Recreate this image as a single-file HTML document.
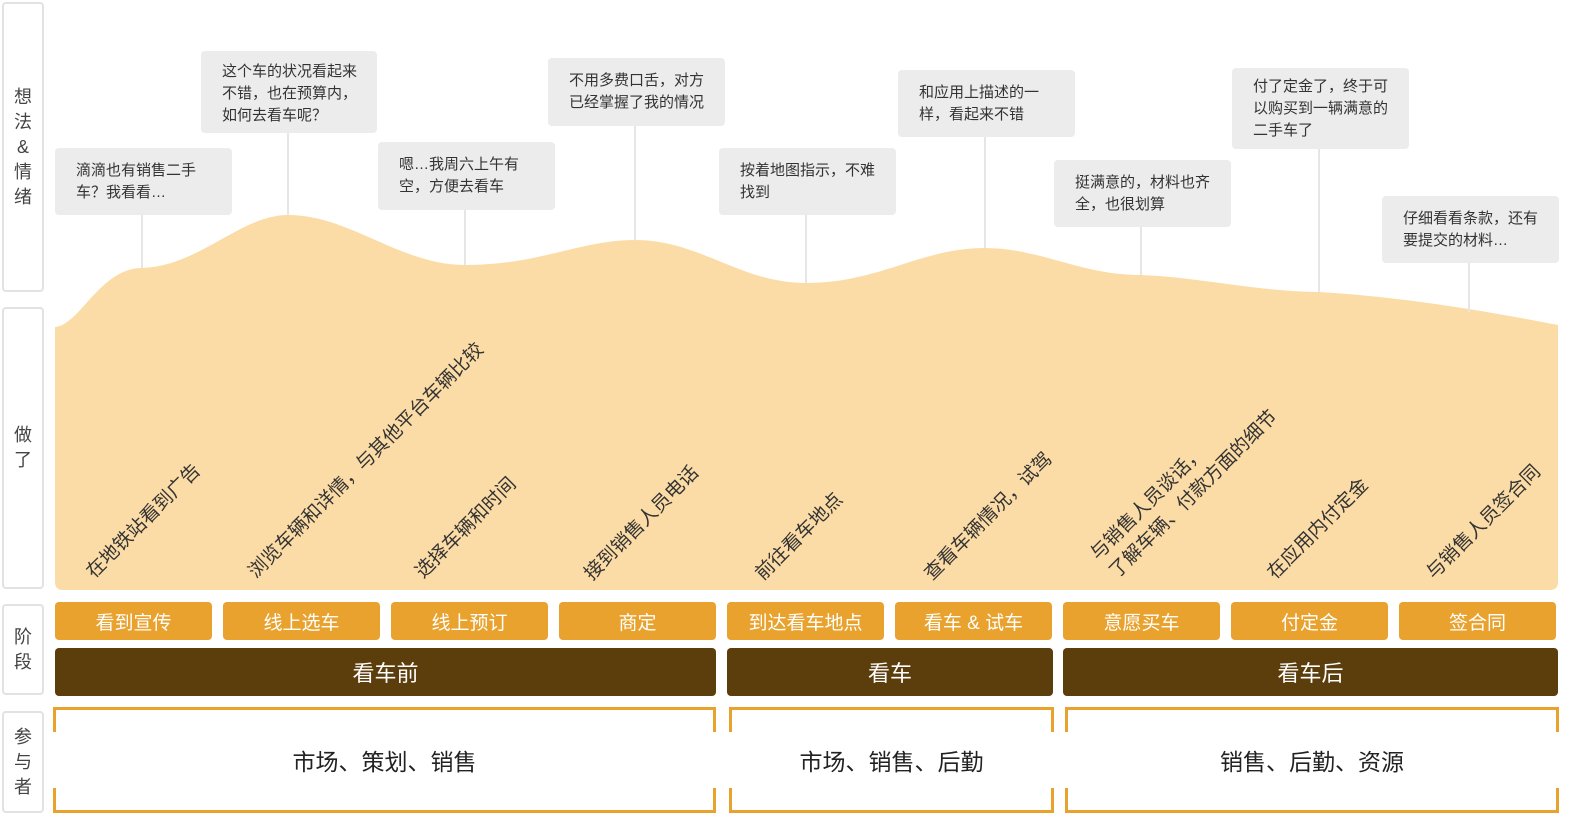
<!DOCTYPE html>
<html><head><meta charset="utf-8"><style>
*{margin:0;padding:0;box-sizing:border-box}
body{width:1585px;height:824px;background:#fff;position:relative;overflow:hidden;font-family:"Liberation Sans","Noto Sans CJK SC",sans-serif}
.lab{position:absolute;left:2px;width:42px;border:2px solid #e2e2e2;border-radius:4px;display:flex;align-items:center;justify-content:center;text-align:center;font-size:18px;line-height:25px;color:#444}
.box{position:absolute;background:#ececec;border-radius:4px;font-size:15px;line-height:22px;color:#333;padding:12px 18px 0 21px}
.ln{position:absolute;width:2px;background:#e6e6e6}
.ph{position:absolute;top:602px;height:38px;width:157px;background:#e8a22d;border-radius:4px;color:#fff;font-size:19px;display:flex;align-items:center;justify-content:center}
.st{position:absolute;top:648px;height:48px;background:#5c3d0c;border-radius:4px;color:#fff;font-size:22px;display:flex;align-items:center;justify-content:center}
.br{position:absolute;top:707px;height:106px;border-top:3px solid #e8a22d;border-bottom:3px solid #e8a22d;font-size:23px;color:#222;display:flex;align-items:center;justify-content:center}
.br:before,.br:after{content:"";position:absolute;top:-3px;width:3px;height:25px;background:#e8a22d;border-radius:0 0 0 0}
.br:before{left:0}.br:after{right:0}
.br i{position:absolute;bottom:-3px;width:3px;height:25px;background:#e8a22d}
</style></head><body>
<div class="lab" style="top:2px;height:290px">想<br>法<br>&amp;<br>情<br>绪</div>
<div class="lab" style="top:307px;height:282px">做<br>了</div>
<div class="lab" style="top:604px;height:91px">阶<br>段</div>
<div class="lab" style="top:711px;height:102px">参<br>与<br>者</div>

<svg style="position:absolute;left:0;top:0" width="1585" height="600">
<path d="M55,327 C80,325 100,268 142,268 C200,266 240,215 288,215 C350,215 400,265 465,265 C540,265 580,240 635,240 C700,240 740,283 806,283 C880,283 920,248 985,248 C1040,248 1080,275 1141,275 C1200,277 1260,292 1319,292 C1400,297 1470,308 1558,325 L1558,582 Q1558,590 1550,590 L63,590 Q55,590 55,582 Z" fill="#fcdca6"/>
<g font-size="19" fill="#333" font-family="Liberation Sans, Noto Sans CJK SC, sans-serif">
<text transform="translate(94,579) rotate(-45)">在地铁站看到广告</text>
<text transform="translate(256,579) rotate(-45)">浏览车辆和详情，与其他平台车辆比较</text>
<text transform="translate(423,579) rotate(-45)">选择车辆和时间</text>
<text transform="translate(592,581) rotate(-45)">接到销售人员电话</text>
<text transform="translate(763,581) rotate(-45)">前往看车地点</text>
<text transform="translate(932,581) rotate(-45)">查看车辆情况，试驾</text>
<text transform="translate(1098,561) rotate(-45)">与销售人员谈话，</text>
<text transform="translate(1117,579) rotate(-45)">了解车辆、付款方面的细节</text>
<text transform="translate(1275,580) rotate(-45)">在应用内付定金</text>
<text transform="translate(1434,580) rotate(-45)">与销售人员签合同</text>
</g></svg>

<div class="ln" style="left:141px;top:215px;height:53px"></div>
<div class="ln" style="left:287px;top:133px;height:82px"></div>
<div class="ln" style="left:464px;top:210px;height:55px"></div>
<div class="ln" style="left:634px;top:126px;height:114px"></div>
<div class="ln" style="left:805px;top:215px;height:68px"></div>
<div class="ln" style="left:984px;top:137px;height:111px"></div>
<div class="ln" style="left:1140px;top:227px;height:48px"></div>
<div class="ln" style="left:1318px;top:149px;height:143px"></div>
<div class="ln" style="left:1468px;top:263px;height:49px"></div>

<div class="box" style="left:55px;top:148px;width:177px;height:67px">滴滴也有销售二手车？我看看…</div>
<div class="box" style="left:201px;top:51px;width:176px;height:82px;padding-top:10px">这个车的状况看起来不错，也在预算内，如何去看车呢？</div>
<div class="box" style="left:378px;top:142px;width:177px;height:68px">嗯…我周六上午有空，方便去看车</div>
<div class="box" style="left:548px;top:58px;width:177px;height:68px">不用多费口舌，对方已经掌握了我的情况</div>
<div class="box" style="left:719px;top:148px;width:177px;height:67px">按着地图指示，不难找到</div>
<div class="box" style="left:898px;top:70px;width:177px;height:67px">和应用上描述的一样，看起来不错</div>
<div class="box" style="left:1054px;top:160px;width:177px;height:67px">挺满意的，材料也齐全，也很划算</div>
<div class="box" style="left:1232px;top:68px;width:177px;height:81px;padding-top:8px">付了定金了，终于可以购买到一辆满意的二手车了</div>
<div class="box" style="left:1382px;top:196px;width:177px;height:67px">仔细看看条款，还有要提交的材料…</div>

<div class="ph" style="left:55px">看到宣传</div>
<div class="ph" style="left:223px">线上选车</div>
<div class="ph" style="left:391px">线上预订</div>
<div class="ph" style="left:559px">商定</div>
<div class="ph" style="left:727px">到达看车地点</div>
<div class="ph" style="left:895px">看车 &amp; 试车</div>
<div class="ph" style="left:1063px">意愿买车</div>
<div class="ph" style="left:1231px">付定金</div>
<div class="ph" style="left:1399px">签合同</div>

<div class="st" style="left:55px;width:661px">看车前</div>
<div class="st" style="left:727px;width:326px">看车</div>
<div class="st" style="left:1063px;width:495px">看车后</div>

<div class="br" style="left:53px;width:663px">市场、策划、销售<i style="left:0"></i><i style="right:0"></i></div>
<div class="br" style="left:729px;width:325px">市场、销售、后勤<i style="left:0"></i><i style="right:0"></i></div>
<div class="br" style="left:1065px;width:494px">销售、后勤、资源<i style="left:0"></i><i style="right:0"></i></div>
</body></html>
